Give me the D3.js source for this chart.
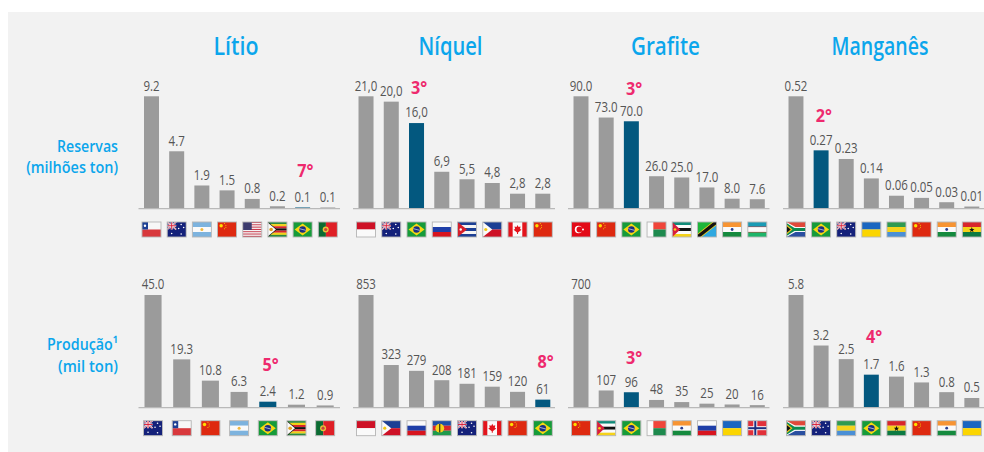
<!DOCTYPE html>
<html lang="pt">
<head>
<meta charset="utf-8">
<title>Reservas e produção de minerais críticos</title>
<script src="https://cdn.jsdelivr.net/npm/d3@7/dist/d3.min.js"></script>
<style>
  html, body { margin: 0; padding: 0; background: #fff; }
  svg { display: block; }
  text { font-family: "Open Sans", sans-serif; }
</style>
</head>
<body>
<div id="chart"></div>
<script>
// Minerals and the two measures shown for each
const minerals = ["Lítio", "Níquel", "Grafite", "Manganês"];
const measures = ["Reservas", "Produção\u00b9"];
const measureUnits = ["(milhões ton)", "(mil ton)"];

// Reservas: values, printed labels, countries
const reservesLithium = [9.2, 4.7, 1.9, 1.5, 0.8, 0.2, 0.1, 0.1];
const reservesLithiumLabels = ["9.2", "4.7", "1.9", "1.5", "0.8", "0.2", "0.1", "0.1"];
const reservesLithiumCountries = ["CL", "AU", "AR", "CN", "US", "ZW", "BR", "PT"];

const reservesNickel = [21, 20, 16, 6.9, 5.5, 4.8, 2.8, 2.8];
const reservesNickelLabels = ["21,0", "20,0", "16,0", "6,9", "5,5", "4,8", "2,8", "2,8"];
const reservesNickelCountries = ["ID", "AU", "BR", "RU", "CU", "PH", "CA", "CN"];

const reservesGraphite = [90, 73, 70, 26, 25, 17, 8, 7.6];
const reservesGraphiteLabels = ["90.0", "73.0", "70.0", "26.0", "25.0", "17.0", "8.0", "7.6"];
const reservesGraphiteCountries = ["TR", "CN", "BR", "MG", "MZ", "TZ", "IN", "UZ"];

const reservesManganese = [0.52, 0.27, 0.23, 0.14, 0.06, 0.05, 0.03, 0.01];
const reservesManganeseLabels = ["0.52", "0.27", "0.23", "0.14", "0.06", "0.05", "0.03", "0.01"];
const reservesManganeseCountries = ["ZA", "BR", "AU", "UA", "GA", "CN", "IN", "GH"];

// Produção: values, printed labels, countries
const outputLithium = [45, 19.3, 10.8, 6.3, 2.4, 1.2, 0.9];
const outputLithiumLabels = ["45.0", "19.3", "10.8", "6.3", "2.4", "1.2", "0.9"];
const outputLithiumCountries = ["AU", "CL", "CN", "AR", "BR", "ZW", "PT"];

const outputNickel = [853, 323, 279, 208, 181, 159, 120, 61];
const outputNickelLabels = ["853", "323", "279", "208", "181", "159", "120", "61"];
const outputNickelCountries = ["ID", "PH", "RU", "NC", "AU", "CA", "CN", "BR"];

const outputGraphite = [700, 107, 96, 48, 35, 25, 20, 16];
const outputGraphiteLabels = ["700", "107", "96", "48", "35", "25", "20", "16"];
const outputGraphiteCountries = ["CN", "MZ", "BR", "MG", "IN", "RU", "UA", "NO"];

const outputManganese = [5.8, 3.2, 2.5, 1.7, 1.6, 1.3, 0.8, 0.5];
const outputManganeseLabels = ["5.8", "3.2", "2.5", "1.7", "1.6", "1.3", "0.8", "0.5"];
const outputManganeseCountries = ["ZA", "AU", "GA", "BR", "GH", "CN", "IN", "UA"];

// Brazil's rank in each panel
const reserveRanks = ["7°", "3°", "3°", "2°"];
const outputRanks = ["5°", "8°", "3°", "4°"];

const panelData = [
  [reservesLithium, reservesLithiumLabels, reservesLithiumCountries, reserveRanks[0]],
  [reservesNickel, reservesNickelLabels, reservesNickelCountries, reserveRanks[1]],
  [reservesGraphite, reservesGraphiteLabels, reservesGraphiteCountries, reserveRanks[2]],
  [reservesManganese, reservesManganeseLabels, reservesManganeseCountries, reserveRanks[3]],
  [outputLithium, outputLithiumLabels, outputLithiumCountries, outputRanks[0]],
  [outputNickel, outputNickelLabels, outputNickelCountries, outputRanks[1]],
  [outputGraphite, outputGraphiteLabels, outputGraphiteCountries, outputRanks[2]],
  [outputManganese, outputManganeseLabels, outputManganeseCountries, outputRanks[3]]
];

// ---- layout ----
const W = 984, H = 452;
const COL = [
  { x0: 138.5, x1: 340, title: 236, titleW: 45 },
  { x0: 353, x1: 555, title: 450.5, titleW: 64 },
  { x0: 568, x1: 769.5, title: 665.5, titleW: 69 },
  { x0: 783, x1: 984, title: 880, titleW: 97 }
];
const ROW = [
  { base: 208.7, top: 96.3, flagTop: 222, lift: [30, 29.5, 26.5, 28.7] },
  { base: 407.7, top: 295, flagTop: 420.7, lift: [31, 31.7, 28.4, 31.3] }
];
const ROW_LABELS = [
  { y: 151.7, w: 61 }, { y: 173.3, w: 92 },
  { y: 350, w: 71 }, { y: 371.7, w: 60 }
];
const FLAG_W = 19, FLAG_H = 15;
const GREY = "#9b9b9b", BRAZIL = "#03587f", INK = "#555", PINK = "#ee2a6e", BLUE = "#0ba6ec";

const svg = d3.select("#chart").append("svg").attr("width", W).attr("height", H);
svg.append("rect").attr("x", 8).attr("y", 12).attr("width", W - 8).attr("height", H - 12).attr("fill", "#f2f2f2");

// Text squeezed horizontally around its anchor point
function label(parent, str, x, y, size, fill, weight, sx, anchor) {
  return parent.append("text")
    .attr("transform", `translate(${x},${y}) scale(${sx},1)`)
    .attr("text-anchor", anchor || "middle")
    .attr("font-size", size)
    .attr("font-weight", weight)
    .attr("fill", fill)
    .text(str);
}

// Same, but squeezed until the text occupies a given width
function fitted(parent, str, x, y, size, fill, weight, width, anchor) {
  const t = label(parent, str, x, y, size, fill, weight, 1, anchor);
  const sx = width / t.node().getComputedTextLength();
  return t.attr("transform", `translate(${x},${y}) scale(${sx},1)`);
}

// ---- flags, each painted on a 19 x 15 grid ----
const band = (g, colors, vertical) => colors.forEach((c, i) => {
  const n = colors.length;
  g.append("rect")
    .attr("x", vertical ? FLAG_W * i / n : 0).attr("y", vertical ? 0 : FLAG_H * i / n)
    .attr("width", vertical ? FLAG_W / n + 0.05 : FLAG_W).attr("height", vertical ? FLAG_H : FLAG_H / n + 0.05)
    .attr("fill", c);
});
const poly = (g, pts, fill) => g.append("polygon").attr("points", pts).attr("fill", fill);
const box = (g, x, y, w, h, fill) => g.append("rect").attr("x", x).attr("y", y).attr("width", w).attr("height", h).attr("fill", fill);
const dot = (g, x, y, r, fill) => g.append("circle").attr("cx", x).attr("cy", y).attr("r", r).attr("fill", fill);
const line = (g, x1, y1, x2, y2, stroke, w) => g.append("line").attr("x1", x1).attr("y1", y1).attr("x2", x2).attr("y2", y2).attr("stroke", stroke).attr("stroke-width", w);

const unionJack = g => {
  box(g, 0, 0, 9, 7.5, "#1b2a7b");
  line(g, 0, 0, 9, 7.5, "#fff", 1.6); line(g, 9, 0, 0, 7.5, "#fff", 1.6);
  line(g, 0, 0, 9, 7.5, "#d8203a", 0.6); line(g, 9, 0, 0, 7.5, "#d8203a", 0.6);
  box(g, 3.5, 0, 2, 7.5, "#fff"); box(g, 0, 2.75, 9, 2, "#fff");
  box(g, 4, 0, 1, 7.5, "#d8203a"); box(g, 0, 3.25, 9, 1, "#d8203a");
};
const flagPainters = {
  CL: g => { band(g, ["#f7f7f7", "#d8383c"]); box(g, 0, 0, 6, 7.5, "#1c3f94"); dot(g, 3, 3.7, 1.2, "#fff"); },
  AU: g => { box(g, 0, 0, 19, 15, "#14217a"); unionJack(g);
    [[14, 2.5], [11.5, 6.5], [16.5, 5.5], [14, 12], [4.5, 11.5]].forEach(p => dot(g, p[0], p[1], 0.8, "#fff")); },
  AR: g => { band(g, ["#7db3de", "#fafafa", "#7db3de"]); dot(g, 9.5, 7.5, 1.5, "#f0b840"); },
  CN: g => { box(g, 0, 0, 19, 15, "#de2910"); dot(g, 3.6, 3.8, 1.7, "#ffde00");
    [[7, 1.5], [8.3, 3.2], [8.3, 5.2], [7, 6.8]].forEach(p => dot(g, p[0], p[1], 0.5, "#ffde00")); },
  US: g => { d3.range(13).forEach(i => box(g, 0, i * 15 / 13, 19, 15 / 13 + 0.05, i % 2 ? "#f6f6f6" : "#c8394a")); box(g, 0, 0, 9, 8, "#3c3b6e"); },
  ZW: g => { band(g, ["#2b8a3e", "#f3d216", "#d8262c", "#111", "#d8262c", "#f3d216", "#2b8a3e"]);
    poly(g, "0,0 9,7.5 0,15", "#111"); poly(g, "0,0.8 8,7.5 0,14.2", "#fafafa"); dot(g, 3.2, 7.5, 1.8, "#e0a020"); },
  BR: g => { box(g, 0, 0, 19, 15, "#169b3a"); poly(g, "9.5,1.5 17.5,7.5 9.5,13.5 1.5,7.5", "#f7d812"); dot(g, 9.5, 7.5, 3.3, "#1c2f80");
    line(g, 6.4, 6.7, 12.6, 8.3, "#fff", 0.6); },
  PT: g => { box(g, 0, 0, 7.6, 15, "#0b6b32"); box(g, 7.6, 0, 11.4, 15, "#df1f26"); dot(g, 7.4, 7.5, 3, "#e8c23a"); dot(g, 7.4, 7.5, 1.6, "#c9443b"); },
  ID: g => band(g, ["#ce1126", "#fafafa"]),
  RU: g => band(g, ["#fafafa", "#1f3fa8", "#d8141e"]),
  CU: g => { band(g, ["#1c3f94", "#f4f4f4", "#1c3f94", "#f4f4f4", "#1c3f94"]); poly(g, "0,0 9.5,7.5 0,15", "#d81e28"); dot(g, 3.2, 7.5, 1.2, "#fff"); },
  PH: g => { band(g, ["#1c3f94", "#ce1126"]); poly(g, "0,0 9.5,7.5 0,15", "#fafafa"); dot(g, 3, 7.5, 1.6, "#f3c816"); },
  CA: g => { band(g, ["#e3141c", "#fafafa", "#fafafa", "#e3141c"], true);
    poly(g, "9.5,3 10.5,5 12.5,4.5 12,7 13.5,7.8 10,10.5 10,12 9,12 9,10.5 5.5,7.8 7,7 6.5,4.5 8.5,5", "#e3141c"); },
  TR: g => { box(g, 0, 0, 19, 15, "#e30a17"); dot(g, 7, 7.5, 3.7, "#fff"); dot(g, 8, 7.5, 3, "#e30a17"); dot(g, 11.5, 7.5, 1, "#fff"); },
  MG: g => { box(g, 0, 0, 6.3, 15, "#fafafa"); box(g, 6.3, 0, 12.7, 7.5, "#f0453a"); box(g, 6.3, 7.5, 12.7, 7.5, "#1e8a4e"); },
  MZ: g => { band(g, ["#0f8a78", "#fafafa", "#111", "#fafafa", "#f5d21a"]); poly(g, "0,0 8,7.5 0,15", "#d81e3c"); dot(g, 2.8, 7.5, 1.3, "#f5d21a"); },
  TZ: g => { box(g, 0, 0, 19, 15, "#1eb53a"); poly(g, "19,0 19,15 0,15", "#2fa8e0"); line(g, 0, 15, 19, 0, "#f5d21a", 5); line(g, 0, 15, 19, 0, "#111", 3.4); },
  IN: g => { band(g, ["#f79433", "#fafafa", "#158a3e"]); dot(g, 9.5, 7.5, 1.4, "#2a3f90"); },
  UZ: g => { band(g, ["#1a9bb5", "#fafafa", "#1eb56a"]); box(g, 0, 4.6, 19, 0.5, "#d83030"); box(g, 0, 9.9, 19, 0.5, "#d83030"); },
  ZA: g => { band(g, ["#e0483a", "#fafafa", "#2a4fa0"]); poly(g, "0,0 9,5 19,5 19,10 9,10 0,15", "#fafafa"); poly(g, "0,1 8,6 19,6 19,9 8,9 0,14", "#0d8a50");
    poly(g, "0,2.5 6,7.5 0,12.5", "#f5c61a"); poly(g, "0,4 4.2,7.5 0,11", "#111"); },
  UA: g => band(g, ["#1a66c0", "#fbd500"]),
  GA: g => band(g, ["#2f9a50", "#f5d31c", "#4a8fd6"]),
  GH: g => { band(g, ["#d8262c", "#f5d21a", "#0c7a42"]); poly(g, "9.5,5 10.2,7 12.2,7 10.6,8.2 11.2,10.2 9.5,9 7.8,10.2 8.4,8.2 6.8,7 8.8,7", "#111"); },
  NC: g => { band(g, ["#1d4fa6", "#d8262c", "#1f9a4c"]); dot(g, 7.5, 7.5, 4.4, "#f5d21a"); box(g, 7, 3.3, 1, 8.4, "#111"); },
  NO: g => { box(g, 0, 0, 19, 15, "#e2303a"); box(g, 5.5, 0, 4, 15, "#fafafa"); box(g, 0, 5.5, 19, 4, "#fafafa"); box(g, 6.5, 0, 2, 15, "#1c2f80"); box(g, 0, 6.5, 19, 2, "#1c2f80"); }
};

let flagSeq = 0;
function drawFlag(parent, code, cx, top) {
  const id = `flag-clip-${flagSeq++}`;
  const g = parent.append("g").attr("transform", `translate(${cx - FLAG_W / 2},${top})`);
  g.append("clipPath").attr("id", id).append("rect").attr("width", FLAG_W).attr("height", FLAG_H);
  flagPainters[code](g.append("g").attr("clip-path", `url(#${id})`));
  g.append("rect").attr("width", FLAG_W).attr("height", FLAG_H).attr("fill", "none").attr("stroke", "#b5b5b5").attr("stroke-width", 0.9);
}

// ---- panels ----
panelData.forEach(([values, labels, countries, rank], i) => {
  const col = COL[i % 4], row = ROW[Math.floor(i / 4)];
  const g = svg.append("g");
  const n = values.length;

  // Band scale across the panel's baseline; panels with fewer bars use wider ones
  const left = n === 8 ? 5.5 : 6, right = n === 8 ? 4.7 : 6.3;
  const x = d3.scaleBand().domain(d3.range(n)).range([col.x0 + left, col.x1 - right]).paddingInner(0.405).paddingOuter(0);
  const y = d3.scaleLinear().domain([0, d3.max(values)]).range([row.base, row.top]);
  const brazil = countries.indexOf("BR");

  g.selectAll("rect.bar").data(values).join("rect").attr("class", "bar")
    .attr("x", (d, k) => x(k)).attr("width", x.bandwidth())
    .attr("y", d => y(d)).attr("height", d => row.base - y(d))
    .attr("fill", (d, k) => k === brazil ? BRAZIL : GREY);

  // The baseline sits over the feet of the bars
  g.append("line").attr("x1", col.x0).attr("x2", col.x1).attr("y1", row.base - 0.1).attr("y2", row.base - 0.1)
    .attr("stroke", "#b9b9b9").attr("stroke-width", 1.4);

  values.forEach((v, k) => {
    const cx = x(k) + x.bandwidth() / 2;
    label(g, labels[k], cx, y(v) - 5.6, 14, INK, 500, 0.82);
    drawFlag(g, countries[k], cx, row.flagTop);
  });

  const bx = x(brazil) + x.bandwidth() / 2;
  label(g, rank, bx + 2.7, y(values[brazil]) - row.lift[i % 4], 18, PINK, 700, 0.9);
});

// ---- headers ----
minerals.forEach((m, i) => fitted(svg, m, COL[i].title, 55, 24.5, BLUE, 600, COL[i].titleW));

[measures[0], measureUnits[0], measures[1], measureUnits[1]].forEach((s, i) =>
  fitted(svg, s, 118, ROW_LABELS[i].y, 17, BLUE, 600, ROW_LABELS[i].w, "end"));
</script>
</body>
</html>
